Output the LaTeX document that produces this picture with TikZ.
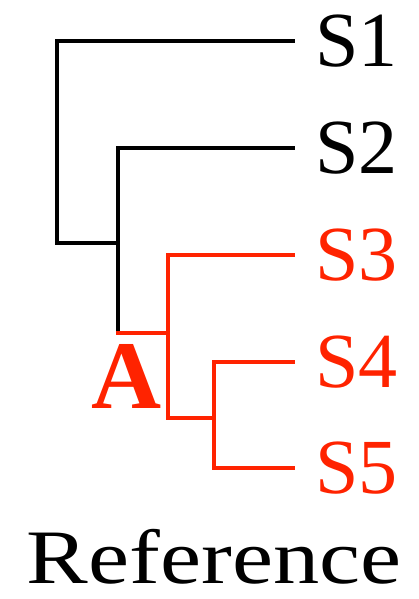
\documentclass[tikz,border=0pt]{standalone}
\usepackage{fontspec}
\setmainfont{Liberation Serif}
\newfontfamily\widefont{Liberation Serif}[FakeStretch=1.2]
\usetikzlibrary{calc}
\definecolor{clade}{RGB}{255,35,0}

\begin{document}
\begin{tikzpicture}[x=1pt,y=-1pt,
		branch/.style={line width=4.4pt,line cap=rect},
		redbranch/.style={branch,clade,line width=4pt},
		leaf/.style={anchor=west,inner sep=0pt,font=\fontsize{78}{78}\selectfont}]
		\useasboundingbox (0,0) rectangle (418,599);
		\node[leaf] (S1) at (315,41) {S1};
		\node[leaf] (S2) at (315,148) {S2};
		\node[leaf,text=clade] (S3) at (315,255) {S3};
		\node[leaf,text=clade] (S4) at (315,362) {S4};
		\node[leaf,text=clade] (S5) at (315,468) {S5};
		\coordinate (n1) at (57,243);
		\coordinate (n2) at (118,333);
		\coordinate (n3) at (168,333);
		\coordinate (n4) at (214,418);
		\draw[branch] ([xshift=-22pt]S1.west) -| (n1) -- (n1 -| n2);
		\draw[branch] ([xshift=-22pt]S2.west) -| (n2);
		\draw[redbranch] (n2) -- (n3);
		\draw[redbranch] ([xshift=-22pt]S3.west) -| (n3) |- (n4);
		\draw[redbranch] ([xshift=-22pt]S4.west) -| (n4);
		\draw[redbranch] ([xshift=-22pt]S5.west) -| (n4);
		\node[anchor=base,text=clade,font=\fontsize{97}{97}\selectfont\bfseries] (A) at (127,408) {A};
		\node[anchor=base,font=\fontsize{77}{77}\widefont] (ref) at (214,583) {Reference};
	\end{tikzpicture}
\end{document}
